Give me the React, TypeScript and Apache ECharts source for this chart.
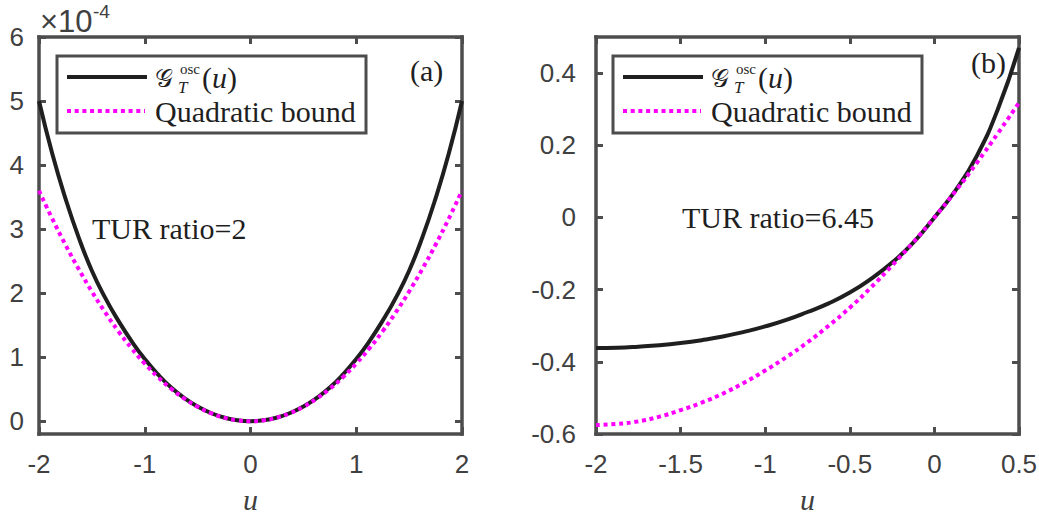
import React, { useEffect, useRef } from "react";
import * as echarts from "echarts";

// ---------- data ----------
// Panel (a): values in units of 1e-4
const uLeft = [
  -2, -1.875, -1.75, -1.625, -1.5, -1.375, -1.25, -1.125, -1, -0.875, -0.75, -0.625, -0.5, -0.375, -0.25, -0.125,
  0, 0.125, 0.25, 0.375, 0.5, 0.625, 0.75, 0.875, 1, 1.125, 1.25, 1.375, 1.5, 1.625, 1.75, 1.875, 2,
];
const gLeft = [
  5.0, 4.18, 3.48, 2.87, 2.35, 1.93, 1.57, 1.25, 0.97, 0.73, 0.525, 0.36, 0.229, 0.128, 0.057, 0.014,
  0, 0.014, 0.057, 0.128, 0.229, 0.36, 0.525, 0.73, 0.97, 1.25, 1.57, 1.93, 2.35, 2.87, 3.48, 4.18, 5.0,
];
const qLeft = [
  3.6, 3.164, 2.756, 2.377, 2.025, 1.702, 1.406, 1.139, 0.9, 0.689, 0.506, 0.352, 0.225, 0.127, 0.056, 0.014,
  0, 0.014, 0.056, 0.127, 0.225, 0.352, 0.506, 0.689, 0.9, 1.139, 1.406, 1.702, 2.025, 2.377, 2.756, 3.164, 3.6,
];

// Panel (b)
const uRight = [
  -2, -1.875, -1.75, -1.625, -1.5, -1.375, -1.25, -1.125, -1, -0.875, -0.75, -0.625, -0.5, -0.375, -0.25, -0.125,
  0, 0.125, 0.25, 0.375, 0.5,
];
const gRight = [
  -0.362, -0.361, -0.358, -0.354, -0.348, -0.34, -0.33, -0.317, -0.302, -0.284, -0.262, -0.238, -0.208, -0.17, -0.125, -0.07,
  0, 0.075, 0.17, 0.3, 0.47,
];
const qRight = [
  -0.575, -0.572, -0.565, -0.552, -0.534, -0.513, -0.488, -0.458, -0.424, -0.387, -0.346, -0.3, -0.25, -0.194, -0.133, -0.069,
  0, 0.073, 0.151, 0.233, 0.318,
];

// Tick values
const xTicksLeft = [-2, -1, 0, 1, 2];
const yTicksLeft = [0, 1, 2, 3, 4, 5, 6];
const xTicksRight = [-2, -1.5, -1, -0.5, 0, 0.5];
const yTicksRight = [-0.6, -0.4, -0.2, 0, 0.2, 0.4];

const seriesNames = ["G_T^osc(u)", "Quadratic bound"];
const annotations = ["TUR ratio=2", "TUR ratio=6.45"];
const panelLabels = ["(a)", "(b)"];

// ---------- styles ----------
const AXIS = "#4d4d4d";
const LABEL = "#404040";
const INK = "#1f1f1f";
const MAGENTA = "#ff00ff";
const SERIF = "Liberation Serif";
const SANS = "Liberation Sans";

const pairs = (xs: number[], ys: number[]) => xs.map((x, i) => [x, ys[i]]);

function fmt(v: number) {
  if (Math.abs(v) < 1e-9) return "0";
  const r = Math.round(v * 10) / 10;
  return Number.isInteger(r) ? String(r) : r.toFixed(1);
}

function axisPair(
  dir: "x" | "y",
  grid: number,
  min: number,
  max: number,
  ticks: number[],
  margin: number,
  withName: boolean
) {
  const lineStyle = { color: AXIS, width: 3.5, cap: "square" };
  const main: any = {
    type: "value",
    gridIndex: grid,
    min,
    max,
    position: dir === "x" ? "bottom" : "left",
    splitLine: { show: false },
    axisLine: { show: true, onZero: false, lineStyle },
    axisTick: { show: true, inside: true, length: 7, lineStyle: { color: AXIS, width: 3 }, customValues: ticks },
    axisLabel: {
      show: true,
      customValues: ticks,
      margin,
      color: LABEL,
      fontFamily: SANS,
      fontSize: 26,
      formatter: (v: number) => fmt(v),
    },
  };
  if (withName) {
    main.name = "u";
    main.nameLocation = "middle";
    main.nameGap = 50;
    main.nameTextStyle = { fontFamily: SERIF, fontStyle: "italic", fontSize: 30, color: LABEL };
  }
  const mirror: any = {
    type: "value",
    gridIndex: grid,
    min,
    max,
    position: dir === "x" ? "top" : "right",
    splitLine: { show: false },
    axisLine: { show: true, onZero: false, lineStyle },
    axisTick: { show: true, inside: true, length: 7, lineStyle: { color: AXIS, width: 3 }, customValues: ticks },
    axisLabel: { show: false, customValues: ticks },
  };
  return [main, mirror];
}

function legendGroup(ox: number, oy: number) {
  const txt = (x: number, y: number, text: string, font: string) => ({
    type: "text",
    x,
    y,
    style: { text, font, fill: INK, align: "left", verticalAlign: "middle" },
  });
  return {
    type: "group",
    x: ox,
    y: oy,
    z: 100,
    children: [
      { type: "rect", shape: { x: 0, y: 0, width: 309, height: 77 }, style: { fill: "#fff", stroke: AXIS, lineWidth: 3 } },
      { type: "line", shape: { x1: 10, y1: 21, x2: 90, y2: 21 }, style: { stroke: INK, lineWidth: 4 } },
      { type: "line", shape: { x1: 10, y1: 55, x2: 88, y2: 55 }, style: { stroke: MAGENTA, lineWidth: 4, lineDash: [4, 3.7] } },
      txt(98, 22, "𝒢", `25px 'DejaVu Serif', 'DejaVu Sans', serif`),
      txt(123, 13, "osc", `15px ${SERIF}`),
      txt(121, 31, "T", `italic 17px ${SERIF}`),
      {
        type: "text",
        x: 145,
        y: 21,
        style: {
          text: "{n|(}{i|u}{n|)}",
          align: "left",
          verticalAlign: "middle",
          fill: INK,
          rich: {
            n: { fontFamily: SERIF, fontSize: 30, fill: INK },
            i: { fontFamily: SERIF, fontSize: 30, fontStyle: "italic", fill: INK },
          },
        },
      },
      txt(98, 55, seriesNames[1], `30px ${SERIF}`),
    ],
  };
}

export default function App() {
  const ref = useRef<HTMLDivElement>(null);

  useEffect(() => {
    if (!ref.current) return;
    const chart = echarts.init(ref.current, undefined, { renderer: "svg" });

    const [xL, xLt] = axisPair("x", 0, -2, 2, xTicksLeft, 17, true);
    const [yL, yLr] = axisPair("y", 0, -0.2, 6, yTicksLeft, 15, false);
    const [xR, xRt] = axisPair("x", 1, -2, 0.5, xTicksRight, 17, true);
    const [yR, yRr] = axisPair("y", 1, -0.6, 0.5, yTicksRight, 20, false);

    const lineBase = { type: "line", symbol: "none", smooth: 0.5, silent: true };

    chart.setOption({
      animation: false,
      backgroundColor: "#fff",
      grid: [
        { left: 39, top: 37, width: 423, height: 397, containLabel: false, outerBoundsMode: "none" },
        { left: 596, top: 37, width: 423, height: 397, containLabel: false, outerBoundsMode: "none" },
      ],
      xAxis: [xL, xLt, xR, xRt],
      yAxis: [yL, yLr, yR, yRr],
      series: [
        { ...lineBase, name: seriesNames[0], xAxisIndex: 0, yAxisIndex: 0, data: pairs(uLeft, gLeft), lineStyle: { color: INK, width: 4 }, z: 2 },
        { ...lineBase, name: seriesNames[1], xAxisIndex: 0, yAxisIndex: 0, data: pairs(uLeft, qLeft), lineStyle: { color: MAGENTA, width: 4, type: [4, 3.7] }, z: 3 },
        { ...lineBase, name: seriesNames[0], xAxisIndex: 2, yAxisIndex: 2, data: pairs(uRight, gRight), lineStyle: { color: INK, width: 4 }, z: 2 },
        { ...lineBase, name: seriesNames[1], xAxisIndex: 2, yAxisIndex: 2, data: pairs(uRight, qRight), lineStyle: { color: MAGENTA, width: 4, type: [4, 3.7] }, z: 3 },
      ],
      graphic: [
        { type: "text", x: 40, y: 21, style: { text: "×10", font: `31px ${SANS}`, fill: LABEL, align: "left", verticalAlign: "middle" } },
        { type: "text", x: 93, y: 11, style: { text: "-4", font: `19px ${SANS}`, fill: LABEL, align: "left", verticalAlign: "middle" } },
        { type: "text", x: 410, y: 70, z: 100, style: { text: panelLabels[0], font: `30px ${SERIF}`, fill: INK, align: "left", verticalAlign: "middle" } },
        { type: "text", x: 971, y: 62, z: 100, style: { text: panelLabels[1], font: `30px ${SERIF}`, fill: INK, align: "left", verticalAlign: "middle" } },
        { type: "text", x: 92, y: 228, z: 100, style: { text: annotations[0], font: `30px ${SERIF}`, fill: INK, align: "left", verticalAlign: "middle" } },
        { type: "text", x: 682, y: 217, z: 100, style: { text: annotations[1], font: `30px ${SERIF}`, fill: INK, align: "left", verticalAlign: "middle" } },
        legendGroup(57, 56),
        legendGroup(613, 56),
      ],
    });

    return () => chart.dispose();
  }, []);

  return <div ref={ref} style={{ position: "absolute", left: 0, top: 0, width: 1039, height: 515 }} />;
}
